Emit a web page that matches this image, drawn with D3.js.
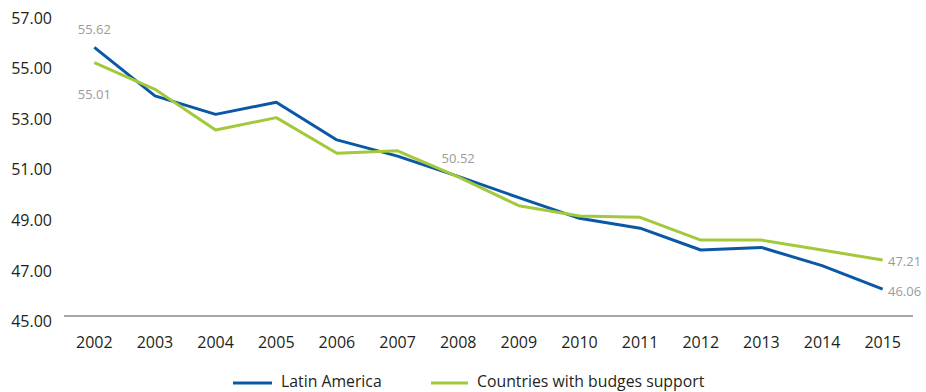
<!DOCTYPE html>
<html><head><meta charset="utf-8">
<script src="https://cdn.jsdelivr.net/npm/d3@7"></script>
<style>body{margin:0;background:#fff}svg{display:block;font-family:"Open Sans",sans-serif}</style>
</head><body><svg id="c" width="926" height="392"></svg>
<script>
const years = ["2002","2003","2004","2005","2006","2007","2008","2009","2010","2011","2012","2013","2014","2015"];
const latinAmerica = [55.62,53.70,52.97,53.45,51.96,51.32,50.52,49.68,48.86,48.47,47.61,47.71,46.99,46.06];
const budgetSupport = [55.01,53.96,52.35,52.84,51.43,51.53,50.50,49.36,48.95,48.90,48.00,48.00,47.61,47.21];
const yTicks = [45,47,49,51,53,55,57];
const seriesNames = ["Latin America","Countries with budges support"];
const colors = ["#0a58a5","#a3c93a"];

const svg = d3.select("#c");
const x = d3.scaleBand().domain(years).range([64,913]);
const y = d3.scaleLinear().domain([45,57]).range([316,12.4]);
const cx = d => x(d) + x.bandwidth()/2;

// y labels
svg.append("g").selectAll("text").data(yTicks).join("text")
  .attr("x",52).attr("y",d=>y(d)+5.5).attr("dy","0.35em").attr("text-anchor","end")
  .attr("font-size",16).attr("fill","#231f20").text(d=>d.toFixed(2));

// baseline
svg.append("line").attr("x1",64).attr("x2",913).attr("y1",y(45)).attr("y2",y(45))
  .attr("stroke","#8a8a8a").attr("stroke-width",1.5);

// x labels
const xAxis = d3.axisBottom(x).tickSize(0).tickPadding(0);
const gx = svg.append("g").attr("transform","translate(0,342)").call(xAxis);
gx.select(".domain").remove();
gx.selectAll("text").attr("font-size",16).attr("fill","#231f20").attr("font-family","Open Sans").attr("dy","0.35em").attr("y",0);

const line = d3.line().x((d,i)=>cx(years[i])).y(d=>y(d));
[latinAmerica, budgetSupport].forEach((s,k)=>{
  svg.append("path").datum(s).attr("d",line).attr("fill","none")
    .attr("stroke",colors[k]).attr("stroke-width",3).attr("stroke-linejoin","round");
});

// annotations
const ann = [
  {t:latinAmerica[0].toFixed(2), x:cx("2002"), y:29.3, a:"middle"},
  {t:budgetSupport[0].toFixed(2), x:cx("2002"), y:94.3, a:"middle"},
  {t:latinAmerica[6].toFixed(2), x:cx("2008"), y:158.3, a:"middle"},
  {t:budgetSupport[13].toFixed(2), x:888, y:261, a:"start"},
  {t:latinAmerica[13].toFixed(2), x:888, y:291.7, a:"start"}
];
svg.append("g").selectAll("text").data(ann).join("text")
  .attr("x",d=>d.x).attr("y",d=>d.y).attr("dy","0.35em").attr("text-anchor",d=>d.a)
  .attr("font-size",13).attr("fill","#9b9b9b").text(d=>d.t);

// legend
const leg = [{x1:233,x2:272,tx:281},{x1:431,x2:468,tx:477}];
leg.forEach((l,i)=>{
  svg.append("line").attr("x1",l.x1).attr("x2",l.x2).attr("y1",383).attr("y2",383)
    .attr("stroke",colors[i]).attr("stroke-width",3);
  svg.append("text").attr("x",l.tx).attr("y",381.5).attr("dy","0.35em")
    .attr("font-size",15.8).attr("fill","#231f20").text(seriesNames[i]);
});
</script></body></html>
